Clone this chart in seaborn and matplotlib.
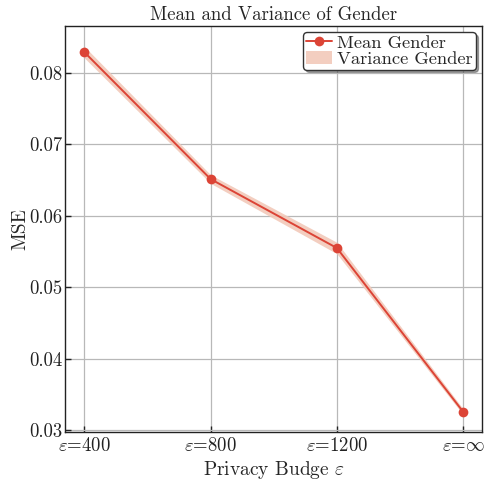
import numpy as np
import pandas as pd
import matplotlib
matplotlib.use("Agg")
import matplotlib.pyplot as plt
import seaborn as sns

# Privacy budget settings and the MSE for the gender attribute
budgets = [r"$\varepsilon$=400", r"$\varepsilon$=800", r"$\varepsilon$=1200", r"$\varepsilon$=$\infty$"]
mean_gender = [0.0829, 0.06513, 0.05548, 0.03255]
var_gender = [0.0008, 0.0006, 0.0008, 0.0004]

sns.set_style("ticks")
plt.rcParams["font.family"] = ["cmr10", "DejaVu Serif"]
plt.rcParams["mathtext.fontset"] = "cm"
plt.rcParams["axes.formatter.use_mathtext"] = True
plt.rcParams["axes.unicode_minus"] = False

df = pd.DataFrame({"pos": np.arange(len(budgets)), "mse": mean_gender, "var": var_gender})

fig = plt.figure(figsize=(4.95, 4.84), dpi=100)
ax = fig.add_axes([0.132, 0.107, 0.842, 0.840])

line_color = "#dc4436"
band_color = "#f2c9b9"

ax.fill_between(df["pos"], df["mse"] - df["var"], df["mse"] + df["var"],
                color=band_color, alpha=0.9, linewidth=0, label="Variance Gender", zorder=2)
sns.lineplot(data=df, x="pos", y="mse", ax=ax, color=line_color, marker="o",
             markersize=7, markeredgewidth=0, linewidth=1.4, label="Mean Gender", zorder=3)

ax.set_xlim(-0.15, 3.15)
ax.set_ylim(0.0297, 0.0866)
ax.set_xticks(df["pos"])
ax.set_xticklabels(budgets)
ax.set_yticks([0.03, 0.04, 0.05, 0.06, 0.07, 0.08])
ax.set_yticklabels(["0.03", "0.04", "0.05", "0.06", "0.07", "0.08"])

ax.grid(True, color="#b8b8b8", linewidth=0.9)
ax.set_axisbelow(True)
ax.tick_params(direction="in", length=4, width=1, labelsize=13.5, colors="#222222")
ax.tick_params(axis="y", pad=2)
for s in ax.spines.values():
    s.set_color("#222222")
    s.set_linewidth(1.0)

ax.set_title("Mean and Variance of Gender", fontsize=13.5, pad=4)
ax.set_xlabel(r"Privacy Budge $\varepsilon$", fontsize=14, labelpad=3)
ax.set_ylabel("MSE", fontsize=14, labelpad=0)

handles, labels = ax.get_legend_handles_labels()
order = [labels.index("Mean Gender"), labels.index("Variance Gender")]
leg = ax.legend([handles[i] for i in order], [labels[i] for i in order],
                loc="upper right", fontsize=13.3, frameon=True, fancybox=True, shadow=True,
                borderpad=0.15, labelspacing=0.0, handlelength=1.4, handletextpad=0.3,
                borderaxespad=0.35)
leg.get_frame().set_edgecolor("#333333")
leg.get_frame().set_linewidth(1.0)
leg.get_frame().set_alpha(1.0)

fig.savefig("out.png", dpi=100)
